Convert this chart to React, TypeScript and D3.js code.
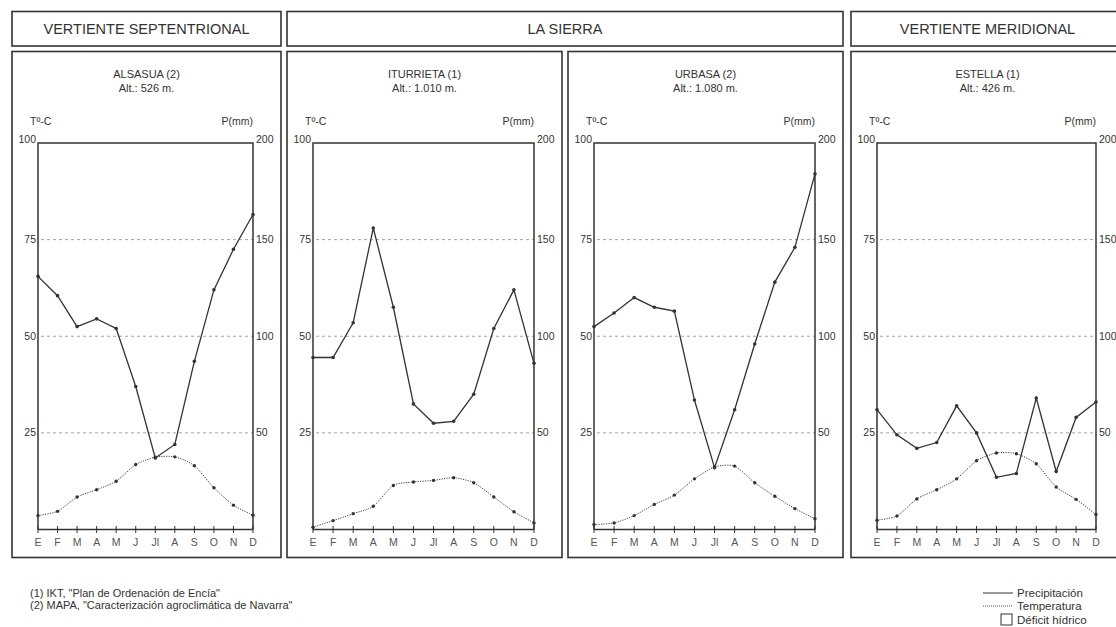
import React from "react";
import * as d3 from "d3";

// Climodiagramas (Gaussen): P = 2T
const months = ["E", "F", "M", "A", "M", "J", "Jl", "A", "S", "O", "N", "D"];
const regions = ["VERTIENTE SEPTENTRIONAL", "LA SIERRA", "VERTIENTE MERIDIONAL"];
const stations = ["ALSASUA (2)", "ITURRIETA (1)", "URBASA (2)", "ESTELLA (1)"];
const altitudes = ["Alt.: 526 m.", "Alt.: 1.010 m.", "Alt.: 1.080 m.", "Alt.: 426 m."];

const precipAlsasua = [131, 121, 105, 109, 104, 74, 37, 44, 87, 124, 145, 163];
const precipIturrieta = [89, 89, 107, 156, 115, 65, 55, 56, 70, 104, 124, 86];
const precipUrbasa = [105, 112, 120, 115, 113, 67, 32, 62, 96, 128, 146, 184];
const precipEstella = [62, 49, 42, 45, 64, 50, 27, 29, 68, 30, 58, 66];

const tempAlsasua = [3.6, 4.7, 8.4, 10.3, 12.5, 16.8, 18.7, 18.8, 16.5, 10.8, 6.3, 3.7];
const tempIturrieta = [0.6, 2.3, 4.1, 6.0, 11.4, 12.3, 12.7, 13.4, 12.1, 8.4, 4.6, 1.7];
const tempUrbasa = [1.3, 1.7, 3.6, 6.5, 8.9, 13.1, 16.2, 16.4, 12.1, 8.6, 5.4, 2.8];
const tempEstella = [2.4, 3.5, 7.9, 10.3, 13.1, 17.8, 19.8, 19.6, 17.0, 11.0, 7.8, 3.9];

const precipSeries = [precipAlsasua, precipIturrieta, precipUrbasa, precipEstella];
const tempSeries = [tempAlsasua, tempIturrieta, tempUrbasa, tempEstella];

const tTicks = [25, 50, 75, 100];
const pTicks = [50, 100, 150, 200];

const footnotes = [
  '(1) IKT, "Plan de Ordenación de Encía"',
  '(2) MAPA, "Caracterización agroclimática de Navarra"',
];

const W = 1116;
const H = 627;
const FONT = "'Liberation Sans', Arial, sans-serif";
const INK = "#333";

// panel frames (layout only)
const panelBoxes = [
  [12, 281],
  [287, 562],
  [568, 843],
  [851, 1124],
];
const headerBoxes = [
  [12, 281],
  [287, 843],
  [851, 1124],
];
const plotTop = 143;
const plotBottom = 529.5;

function Panel({ i }: { i: number }) {
  const [x0, x1] = panelBoxes[i];
  const left = x0 + 26;
  const right = x1 - 28;
  const cx = (x0 + x1) / 2;

  const x = d3.scalePoint<number>().domain(d3.range(12)).range([left, right]);
  const yT = d3.scaleLinear().domain([0, 100]).range([plotBottom, plotTop]);
  const yP = d3.scaleLinear().domain([0, 200]).range([plotBottom, plotTop]);

  const pLine = d3
    .line<number>()
    .x((_, j) => x(j)!)
    .y((d) => yP(d));
  const tLine = d3
    .line<number>()
    .x((_, j) => x(j)!)
    .y((d) => yT(d))
    .curve(d3.curveCardinal.tension(0.3));

  const precip = precipSeries[i];
  const temp = tempSeries[i];

  return (
    <g>
      <rect x={x0} y={51.5} width={x1 - x0} height={506} fill="none" stroke={INK} strokeWidth={1.6} />
      <text x={cx} y={78} textAnchor="middle" fontSize={11} fill={INK}>
        {stations[i]}
      </text>
      <text x={cx} y={92} textAnchor="middle" fontSize={11} fill={INK}>
        {altitudes[i]}
      </text>
      <text x={left - 8} y={125} fontSize={10.5} fill={INK}>
        Tº-C
      </text>
      <text x={right} y={125} textAnchor="end" fontSize={10.5} fill={INK}>
        P(mm)
      </text>

      {/* gridlines */}
      {tTicks
        .filter((t) => t < 100)
        .map((t) => (
          <line
            key={t}
            x1={left + 3}
            x2={right}
            y1={yT(t)}
            y2={yT(t)}
            stroke="#999"
            strokeWidth={0.9}
            strokeDasharray="3,3"
          />
        ))}

      {/* left axis labels */}
      {tTicks.map((t) => (
        <text key={t} x={left - 2} y={yT(t) + (t === 100 ? 0 : 3.5)} textAnchor="end" fontSize={10.5} fill={INK}>
          {t}
        </text>
      ))}
      {pTicks.map((p) => (
        <text key={p} x={right + 3} y={yP(p) + (p === 200 ? 0 : 3.5)} fontSize={10.5} fill={INK}>
          {p}
        </text>
      ))}

      {/* frame */}
      <path
        d={`M${left},${plotBottom}V${plotTop}H${right}V${plotBottom}`}
        fill="none"
        stroke={INK}
        strokeWidth={1.5}
      />
      <line x1={left} x2={right} y1={plotBottom} y2={plotBottom} stroke={INK} strokeWidth={1.5} />
      {months.map((m, j) => (
        <g key={j}>
          <line x1={x(j)} x2={x(j)} y1={plotBottom - 3.5} y2={plotBottom + 3.5} stroke={INK} strokeWidth={1} />
          <text x={x(j)} y={545.5} textAnchor="middle" fontSize={10.5} fill="#555">
            {m}
          </text>
        </g>
      ))}

      {/* temperatura */}
      <path d={tLine(temp) ?? ""} fill="none" stroke="#444" strokeWidth={1} strokeDasharray="1.2,1.2" />
      {temp.map((d, j) => (
        <circle key={j} cx={x(j)} cy={yT(d)} r={1.7} fill={INK} />
      ))}

      {/* precipitación */}
      <path d={pLine(precip) ?? ""} fill="none" stroke={INK} strokeWidth={1.3} />
      {precip.map((d, j) => (
        <circle key={j} cx={x(j)} cy={yP(d)} r={1.8} fill={INK} />
      ))}
    </g>
  );
}

export default function App() {
  return (
    <div style={{ position: "absolute", left: 0, top: 0 }}>
      <svg width={W} height={H} viewBox={`0 0 ${W} ${H}`} style={{ display: "block", fontFamily: FONT }}>
        <rect width={W} height={H} fill="#fff" />

        {headerBoxes.map(([a, b], k) => (
          <g key={k}>
            <rect x={a} y={11.5} width={b - a} height={34.5} fill="none" stroke={INK} strokeWidth={1.6} />
            <text x={(a + b) / 2} y={34} textAnchor="middle" fontSize={14.5} fill={INK}>
              {regions[k]}
            </text>
          </g>
        ))}

        {stations.map((_, i) => (
          <Panel key={i} i={i} />
        ))}

        {footnotes.map((f, k) => (
          <text key={k} x={30} y={597 + k * 12} fontSize={11} fill={INK}>
            {f}
          </text>
        ))}

        {/* leyenda */}
        <line x1={983} x2={1013} y1={593} y2={593} stroke={INK} strokeWidth={1} />
        <text x={1017} y={597} fontSize={11.5} fill={INK}>
          Precipitación
        </text>
        <line x1={983} x2={1013} y1={606} y2={606} stroke="#555" strokeWidth={1} strokeDasharray="1,1" />
        <text x={1017} y={610} fontSize={11.5} fill={INK}>
          Temperatura
        </text>
        <rect x={1001} y={614} width={11} height={11} fill="none" stroke={INK} strokeWidth={1} />
        <text x={1017} y={624} fontSize={11.5} fill={INK}>
          Déficit hídrico
        </text>
      </svg>
    </div>
  );
}
